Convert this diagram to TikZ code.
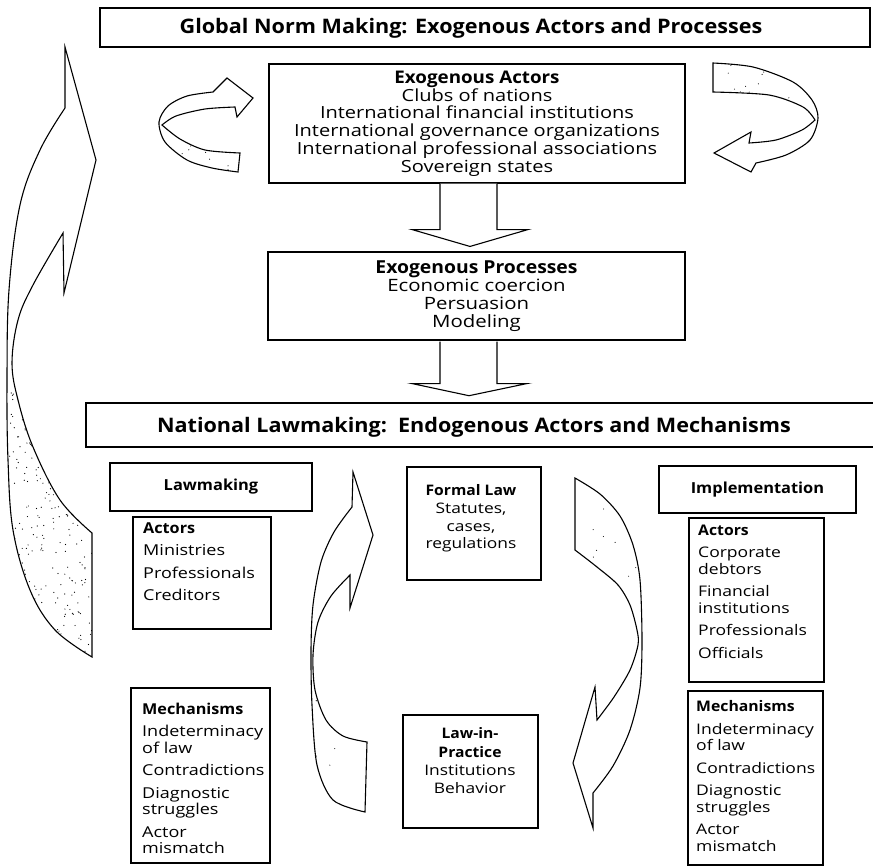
\documentclass[tikz,border=0pt]{standalone}
\usepackage{fontspec}
\setmainfont{Open Sans}[FakeStretch=1.2]
\newfontfamily\bfam{Open Sans}[FakeStretch=1.08]
\newcommand\mybf[1]{{\bfam\bfseries #1}}
\usetikzlibrary{calc}
\begin{document}
\begin{tikzpicture}[x=1pt,y=-1pt,line join=miter]
\tikzset{
  hdr/.style={draw, line width=2.6pt, inner sep=0},
  hdrtext/.style={inner sep=0, font=\fontsize{20}{22}\bfam\bfseries\selectfont},
  box/.style={draw, line width=1.1pt, inner sep=0},
  ctext/.style={inner sep=0, align=center, font=\fontsize{16.7}{17.8}\selectfont},
  ltext/.style={inner sep=0, align=left, anchor=north west, font=\fontsize{15}{16.5}\selectfont},
  btext/.style={font=\fontsize{15.2}{17}\bfam\bfseries\selectfont},
  arw/.style={draw, line width=1.1pt, fill=white},
  blk/.style={draw, line width=1.1pt, fill=white},
  speck/.style={fill=black}
}
\useasboundingbox (0,0) rectangle (873,865);
\fill[white] (0,0) rectangle (873,865);
\pgfmathsetseed{12}

% ---------- big curved arrow on the left ----------
\draw[arw] (65,108) -- plot[smooth, tension=0.6] coordinates {(65,108) (40,150) (20,205) (9,290) (7,380) (8,460) (13,530) (30,590) (55,630) (92,657)}
  -- (92,533) -- plot[smooth, tension=0.6] coordinates {(92,533) (60,500) (33,447) (18,400) (12,363) (18,320) (33,285) (63,233)}
  -- (64,293) -- (96,160) -- (65,47) -- cycle;
\begin{scope}
\clip plot[smooth, tension=0.6] coordinates {(11,363) (8,420) (8,460) (13,530) (30,590) (55,630) (92,657)} -- (92,533)
  -- plot[smooth, tension=0.6] coordinates {(92,533) (60,500) (33,447) (18,400) (12,363)} -- cycle;
\foreach \k in {1,...,320} {\fill[speck] ({8+84*rnd},{380+277*rnd}) circle (0.6);}
\end{scope}

% ---------- top-left circular arrow ----------
\draw[arw] (213,92) -- plot[smooth] coordinates {(213,92) (187,96) (168,106) (159,122) (165,142) (187,160) (212,168) (238,172)}
  -- (240,153) -- plot[smooth] coordinates {(240,153) (205,150) (180,139) (162,125)}
  -- plot[smooth] coordinates {(162,125) (176,116) (205,109) (235,107)}
  -- (237,117) -- (253,98) -- (227,78) -- cycle;
\begin{scope}
\clip plot[smooth] coordinates {(159,122) (165,142) (187,160) (212,168) (238,172)} -- (240,153)
  -- plot[smooth] coordinates {(240,153) (205,150) (180,139) (162,125)} -- cycle;
\foreach \k in {1,...,14} {\fill[speck] ({180+50*rnd},{145+25*rnd}) circle (0.55);}
\end{scope}

% ---------- top-right circular arrow ----------
\draw[arw] (713,63) -- plot[smooth] coordinates {(713,63) (753,67) (793,82) (812,100) (818,118) (810,140) (786,155) (756,163)}
  -- (751,172) -- (714,153) -- (751,132) -- (749,143)
  -- plot[smooth] coordinates {(749,143) (776,140) (802,130) (815,120)}
  -- plot[smooth] coordinates {(815,120) (803,107) (769,95) (713,92)} -- cycle;
\begin{scope}
\clip plot[smooth] coordinates {(713,63) (753,67) (793,82) (812,100) (818,118)}
  -- plot[smooth] coordinates {(815,120) (803,107) (769,95) (713,92)} -- cycle;
\foreach \k in {1,...,16} {\fill[speck] ({715+90*rnd},{64+40*rnd}) circle (0.55);}
\end{scope}

% ---------- middle-left curved arrow ----------
\draw[arw] (352,507) -- plot[smooth] coordinates {(352,507) (334,532) (321,562) (313,605) (311,650) (312,705) (317,765) (333,800) (365,812)}
  -- (367,742) -- plot[smooth] coordinates {(367,742) (343,736) (326,720) (315,690) (313,655) (318,622) (331,596) (350,575)}
  -- (350,608) -- (373,535) -- (353,472) -- cycle;
\begin{scope}
\clip plot[smooth] coordinates {(312,660) (312,705) (317,765) (333,800) (365,812)} -- (367,742)
  -- plot[smooth] coordinates {(367,742) (343,736) (326,720) (315,690) (313,660)} -- cycle;
\foreach \k in {1,...,14} {\fill[speck] ({312+55*rnd},{660+152*rnd}) circle (0.55);}
\end{scope}

% ---------- middle-right curved arrow ----------
\draw[arw] (575,478) -- plot[smooth] coordinates {(575,478) (600,494) (620,516) (633,545) (640,580) (642,640) (640,688) (630,730) (613,766) (593,793)}
  -- (593,828) -- (573,763) -- (595,687) -- (597,720)
  -- plot[smooth] coordinates {(597,720) (614,697) (630,670) (638,645) (637,630) (630,605) (618,585) (597,567) (575,550)} -- cycle;
\begin{scope}
\clip plot[smooth] coordinates {(575,478) (600,494) (620,516) (633,545) (640,580) (641,640)}
  -- plot[smooth] coordinates {(638,640) (637,630) (630,605) (618,585) (597,567) (575,550)} -- cycle;
\foreach \k in {1,...,16} {\fill[speck] ({576+62*rnd},{480+150*rnd}) circle (0.55);}
\end{scope}

% ---------- top section ----------
\node[hdr, minimum width=770, minimum height=39] (gh) at (485,27.5) {};
\node[hdrtext] (ght) at (471,28) {Global Norm Making: Exogenous Actors and Processes};

\node[box, ctext, minimum width=416, minimum height=119] (act) at (477,123.5)
  {\mybf{\fontsize{17.4}{17.8}\selectfont Exogenous Actors}\\Clubs of nations\\International financial institutions\\International governance organizations\\International professional associations\\Sovereign states};

\node[box, ctext, font=\fontsize{17}{18}\selectfont, minimum width=417, minimum height=88] (proc) at (476.5,296)
  {\mybf{\fontsize{17.9}{18}\selectfont Exogenous Processes}\\Economic coercion\\Persuasion\\Modeling};

\node[hdr, minimum width=794, minimum height=44] (nh) at (483,425) {};
\node[hdrtext] (nht) at (474,427) {National Lawmaking:\ \ Endogenous Actors and Mechanisms};

% block arrows
\draw[blk] ($(act.south)+(-37,0)$) -- ($(act.south)+(-37,46)$) -- ($(act.south)+(-65,46)$)
  -- ($(proc.north)+(-6.5,-5)$) -- ($(act.south)+(51,46)$) -- ($(act.south)+(20,46)$) -- ($(act.south)+(20,0)$);
\draw[blk] ($(proc.south)+(-36.5,1)$) -- ($(proc.south)+(-36.5,43)$) -- ($(proc.south)+(-64.5,43)$)
  -- ($(nh.north)+(-14,-6)$) -- ($(proc.south)+(50.5,43)$) -- ($(proc.south)+(20.5,43)$) -- ($(proc.south)+(20.5,1)$);

% ---------- lower section ----------
\node[box, btext, minimum width=202, minimum height=48] (lawm) at (211,487) {Lawmaking};
\node[box, minimum width=138, minimum height=112] (lact) at (202,573) {};
\node[ltext] (lactT) at (143,522.5) {\mybf{Actors}\\[6pt]Ministries\\[6pt]Professionals\\[6pt]Creditors};
\node[box, minimum width=139, minimum height=175] (lmech) at (200.5,775.5) {};
\node[ltext] (lmechT) at (142,702.5) {\mybf{Mechanisms}\\[6pt]Indeterminacy\\of law\\[6pt]Contradictions\\[6pt]Diagnostic\\struggles\\[6pt]Actor\\mismatch};

\node[box, minimum width=134, minimum height=113] (flaw) at (474,523.5) {};
\node[ctext, anchor=north, font=\fontsize{14.5}{17.7}\selectfont] (flawT) at (471,484.5) {\mybf{Formal Law}\\Statutes,\\cases,\\regulations};
\node[box, minimum width=135, minimum height=113] (lip) at (470.5,771.5) {};
\node[ctext, anchor=north, font=\fontsize{14.5}{18.3}\selectfont] (lipT) at (470,727.5) {\mybf{Law-in-}\\\mybf{Practice}\\Institutions\\Behavior};

\node[box, btext, minimum width=197, minimum height=47] (impl) at (757.5,489.5) {Implementation};
\node[box, minimum width=135, minimum height=164] (ract) at (756.5,600) {};
\node[ltext, font=\fontsize{14.6}{16.5}\selectfont] (ractT) at (698,524.5) {\mybf{Actors}\\[6pt]Corporate\\debtors\\[6pt]Financial\\institutions\\[6pt]Professionals\\[6pt]Officials};
\node[box, minimum width=135, minimum height=174] (rmech) at (755.5,778) {};
\node[ltext, font=\fontsize{14.6}{16.5}\selectfont] (rmechT) at (696,700.5) {\mybf{Mechanisms}\\[6pt]Indeterminacy\\of law\\[6pt]Contradictions\\[6pt]Diagnostic\\struggles\\[6pt]Actor\\mismatch};
\end{tikzpicture}
\end{document}
